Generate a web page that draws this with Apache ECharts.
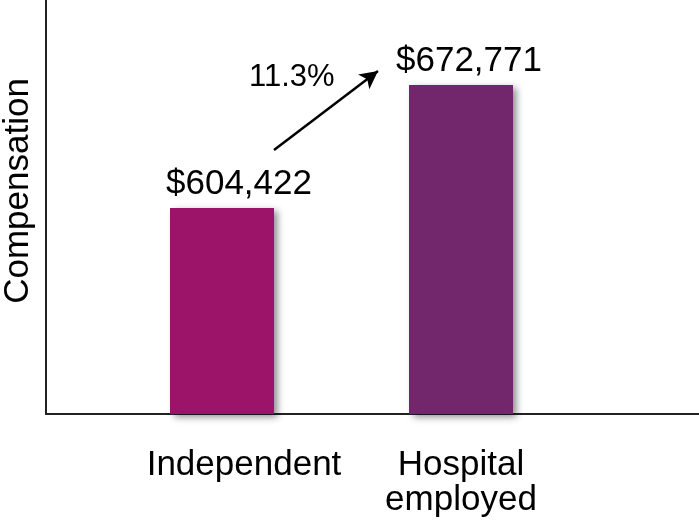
<!DOCTYPE html>
<html>
<head>
<meta charset="utf-8">
<script src="https://cdn.jsdelivr.net/npm/echarts@6/dist/echarts.min.js"></script>
<style>
  html, body { margin: 0; padding: 0; background: #fff; }
  #chart { width: 699px; height: 526px; }
</style>
</head>
<body>
<div id="chart"></div>
<script>
// Practice setting vs. median compensation
const categories = ['Independent', 'Hospital\nemployed'];
const compensation = [604422, 672771];
const barColors = ['#9C1469', '#72266C'];

const FONT = "'Liberation Sans', Arial, sans-serif";

const pctChange = (compensation[1] - compensation[0]) / compensation[0] * 100;
const money = v => '$' + v.toLocaleString('en-US');

const chart = echarts.init(document.getElementById('chart'), null, { renderer: 'canvas' });

const labelOffsets = [[17, 0], [8, 0]];

chart.setOption({
  animation: false,
  backgroundColor: '#ffffff',
  grid: { left: 46, right: 0, top: 0, bottom: 112, containLabel: false, outerBoundsMode: 'none' },
  xAxis: {
    type: 'value',
    min: -0.7364,
    max: 1.9958,
    splitLine: { show: false },
    axisTick: { show: false },
    axisLine: { show: true, onZero: false, lineStyle: { color: '#222', width: 2 } },
    axisLabel: {
      customValues: [0, 1],
      verticalAlign: 'top',
      margin: 34,
      formatter: v => v === 0 ? '{ind|' + categories[0] + '}' : '{hosp|' + categories[1] + '}',
      rich: {
        ind: { fontFamily: FONT, fontSize: 35, color: '#000', lineHeight: 35, padding: [0, 0, 0, 44] },
        hosp: { fontFamily: FONT, fontSize: 35, color: '#000', lineHeight: 35, align: 'center' }
      }
    }
  },
  yAxis: {
    type: 'value',
    min: 490000,
    max: 720000,
    name: 'Compensation',
    nameLocation: 'middle',
    nameGap: 10,
    nameTextStyle: { fontFamily: FONT, fontSize: 35, color: '#000', padding: [0, 0, 0, 32] },
    splitLine: { show: false },
    axisTick: { show: false },
    axisLabel: { show: false },
    axisLine: { show: true, onZero: false, lineStyle: { color: '#222', width: 2 } }
  },
  series: [{
    type: 'bar',
    barWidth: 104,
    clip: true,
    data: compensation.map((v, i) => ({
      value: [i, v],
      itemStyle: {
        color: barColors[i],
        shadowColor: 'rgba(0,0,0,0.45)',
        shadowBlur: 7,
        shadowOffsetX: 4,
        shadowOffsetY: 3
      },
      label: { offset: labelOffsets[i] }
    })),
    label: {
      show: true,
      position: 'top',
      distance: 6,
      fontFamily: FONT,
      fontSize: 35,
      color: '#000',
      formatter: p => money(p.value[1])
    },
    markLine: {
      silent: true,
      symbol: ['none', 'arrow'],
      symbolSize: [14, 18],
      lineStyle: { color: '#000', width: 2.5, type: 'solid' },
      label: { show: false },
      data: [[
        { coord: [0.2176, 636667] },
        { coord: [0.6527, 680556] }
      ]]
    }
  }],
  graphic: [{
    type: 'text',
    left: 249,
    top: 62,
    style: {
      text: pctChange.toFixed(1) + '%',
      fontFamily: FONT,
      fontSize: 31,
      fill: '#000'
    }
  }]
});
</script>
</body>
</html>
